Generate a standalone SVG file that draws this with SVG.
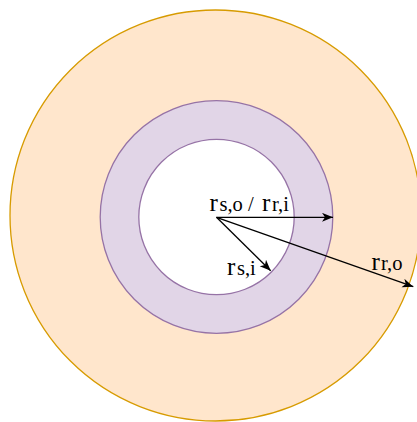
<svg xmlns="http://www.w3.org/2000/svg" width="417" height="422" viewBox="0 0 417 422">
  <style>
    .lbl { font-family: "Liberation Serif", "Times New Roman", serif; fill: #000000; }
    .big { font-size: 25px; }
    .sub { font-size: 20.5px; }
    .conn { stroke: #000000; stroke-width: 1.3; fill: none; marker-end: url(#arrow); }
  </style>
  <defs>
    <marker id="arrow" markerUnits="userSpaceOnUse" markerWidth="12" markerHeight="10" refX="11" refY="4.5" orient="auto" viewBox="0 0 12 10">
      <path d="M0,0 L11,4.5 L0,9 L3,4.5 Z" fill="#000000"/>
    </marker>
  </defs>
  <rect width="417" height="422" fill="#ffffff"/>
  <g id="rotor">
    <circle cx="215.5" cy="215.5" r="205.5" fill="#FFE6CC" stroke="#D79B00" stroke-width="1.3"/>
  </g>
  <g id="stator">
    <circle cx="216.5" cy="217" r="116.3" fill="#E1D5E7" stroke="#9673A6" stroke-width="1.3"/>
  </g>
  <g id="bore">
    <circle cx="216.5" cy="217" r="77.7" fill="#ffffff" stroke="#9673A6" stroke-width="1.3"/>
  </g>
  <g id="connectors">
    <line class="conn" x1="216.5" y1="217.3" x2="333" y2="217.3"/>
    <line class="conn" x1="216.5" y1="217.3" x2="270.7" y2="270.7"/>
    <line class="conn" x1="216.5" y1="217.3" x2="413.3" y2="286.7"/>
  </g>
  <g id="label-rso-rri">
    <text class="lbl" y="210.5"><tspan class="big" x="209.5">r</tspan><tspan class="sub" x="219.5">s,o</tspan><tspan class="sub" x="248">/</tspan><tspan class="big" x="262">r</tspan><tspan class="sub" x="272">r,i</tspan></text>
  </g>
  <g id="label-rsi">
    <text class="lbl" y="274.5"><tspan class="big" x="227">r</tspan><tspan class="sub" x="237">s,i</tspan></text>
  </g>
  <g id="label-rro">
    <text class="lbl" y="270"><tspan class="big" x="371.5">r</tspan><tspan class="sub" x="381">r,o</tspan></text>
  </g>
</svg>
